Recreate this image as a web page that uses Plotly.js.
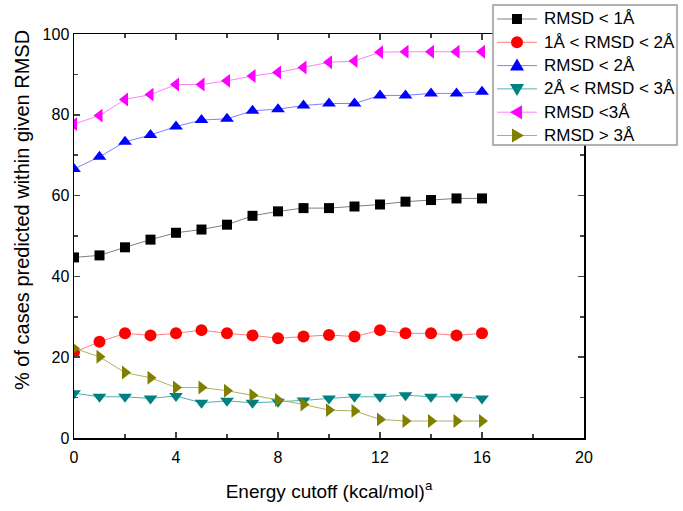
<!DOCTYPE html>
<html><head><meta charset="utf-8">
<script src="https://cdn.plot.ly/plotly-3.0.1.min.js"></script>
<style>body{margin:0;background:#fff}#c{width:683px;height:511px}</style>
</head><body><div id="c"></div>
<script>
const energy = [0,1,2,3,4,5,6,7,8,9,10,11,12,13,14,15,16];
const rmsdLt1 = [44.7,45.2,47.2,49.1,50.8,51.6,52.8,55.0,56.1,56.9,56.9,57.3,57.8,58.5,58.9,59.3,59.3];
const rmsd1to2 = [21.2,23.8,25.9,25.4,25.9,26.7,25.9,25.4,24.7,25.1,25.5,25.1,26.7,25.9,25.9,25.4,25.9];
const rmsdLt2 = [66.6,69.6,73.3,75.0,77.1,78.7,79.0,81.0,81.4,82.3,82.8,82.8,84.8,84.8,85.3,85.3,85.7];
const rmsd2to3 = [11.1,10.2,10.2,9.8,10.4,8.7,9.2,8.7,9.0,9.3,9.8,10.2,10.2,10.6,10.2,10.2,9.8];
const rmsdLt3 = [77.7,79.8,83.8,85.0,87.5,87.5,88.4,89.6,90.5,91.7,93.0,93.3,95.5,95.6,95.6,95.6,95.6];
const rmsdGt3 = [22.2,20.1,16.2,14.9,12.5,12.5,11.7,10.6,9.4,8.3,6.9,6.7,4.6,4.2,4.2,4.2,4.2];

const names = ["RMSD < 1Å","1Å < RMSD < 2Å","RMSD < 2Å","2Å < RMSD < 3Å","RMSD <3Å","RMSD > 3Å"];
const series = [rmsdLt1, rmsd1to2, rmsdLt2, rmsd2to3, rmsdLt3, rmsdGt3];
const markerColors = ["#000000","#ff0000","#0000ff","#008080","#ff00ff","#808000"];
const lineColors = ["#808080","#ff8080","#8080ff","#50b0b0","#ff80ff","#b0b060"];
const symbols = ["square","circle","triangle-up","triangle-down","triangle-left","triangle-right"];
const sizes = [10,12,12,12,12,12];
const xTitle = 'Energy cutoff (kcal/mol)<sup>a</sup>';
const yTitle = '% of cases predicted within given RMSD';

const traces = series.map((ys,k)=>({
  x: energy, y: ys, name: names[k], type:'scatter', mode:'lines+markers', showlegend:false,
  line:{color:lineColors[k], width:1},
  marker:{symbol:symbols[k], color:markerColors[k], size:sizes[k], line:{width:0}}
}));

// plot area geometry (pixels)
const L = 74, T = 34, W = 510, H = 404;
const px = x => (x - L) / W;
const py = y => (T + H - y) / H;
const font = {family:'"Liberation Sans", Arial, sans-serif', color:'#000'};

// manual legend (layout only)
const shapes = [], annotations = [];
const box = {x0:493, x1:677, y0:5, y1:145};
shapes.push({type:'rect', xref:'paper', yref:'paper', layer:'above',
  x0:px(box.x0), x1:px(box.x1), y0:py(box.y1), y1:py(box.y0),
  fillcolor:'#ffffff', line:{color:'#999', width:1.5}});
const rowY0 = 19, rowStep = 23.3, lineX0 = 497, lineX1 = 537, mX = 517, textX = 542;
function path(pts){ return 'M' + pts.map(p=>px(p[0])+','+py(p[1])).join(' L') + ' Z'; }
names.forEach((nm,k)=>{
  const yc = rowY0 + k*rowStep;
  shapes.push({type:'line', xref:'paper', yref:'paper', layer:'above',
    x0:px(lineX0), x1:px(lineX1), y0:py(yc), y1:py(yc), line:{color:lineColors[k], width:1}});
  const c = markerColors[k];
  let s;
  if (symbols[k]==='square') {
    s = {type:'rect', x0:px(mX-5), x1:px(mX+5), y0:py(yc+5), y1:py(yc-5)};
  } else if (symbols[k]==='circle') {
    s = {type:'circle', x0:px(mX-6), x1:px(mX+6), y0:py(yc+6), y1:py(yc-6)};
  } else if (symbols[k]==='triangle-up') {
    s = {type:'path', path:path([[mX-7,yc+5],[mX+7,yc+5],[mX,yc-7]])};
  } else if (symbols[k]==='triangle-down') {
    s = {type:'path', path:path([[mX-7,yc-5],[mX+7,yc-5],[mX,yc+7]])};
  } else if (symbols[k]==='triangle-left') {
    s = {type:'path', path:path([[mX+5,yc-7],[mX+5,yc+7],[mX-7,yc]])};
  } else {
    s = {type:'path', path:path([[mX-5,yc-7],[mX-5,yc+7],[mX+7,yc]])};
  }
  shapes.push(Object.assign(s, {xref:'paper', yref:'paper', layer:'above', fillcolor:c, line:{width:0}}));
  annotations.push({xref:'paper', yref:'paper', x:px(textX), y:py(yc), xanchor:'left', yanchor:'middle',
    text:nm, showarrow:false, font:Object.assign({size:17}, font)});
});
// y-axis title (placed as in the reference, slightly above the axis centre)
annotations.push({xref:'paper', yref:'paper', x:px(22), y:py(210), xanchor:'center', yanchor:'middle',
  textangle:-90, text:yTitle, showarrow:false, font:Object.assign({size:20}, font)});

const layout = {
  width:683, height:511,
  margin:{l:L, r:683-L-W, t:T, b:511-T-H, autoexpand:false},
  paper_bgcolor:'#fff', plot_bgcolor:'#fff',
  font: Object.assign({size:16}, font),
  showlegend:false,
  shapes: shapes, annotations: annotations,
  xaxis:{range:[0,20], tickvals:[0,4,8,12,16,20], ticks:'inside', ticklen:6, tickwidth:1.5,
    showline:true, linecolor:'#000', linewidth:1.5, mirror:'ticks', showgrid:false, zeroline:false,
    minor:{tickvals:[2,6,10,14,18], ticks:'inside', ticklen:4, tickwidth:1.5, showgrid:false},
    tickfont:Object.assign({size:16}, font), ticklabelstandoff:4,
    title:{text:xTitle, font:Object.assign({size:19}, font), standoff:20}},
  yaxis:{range:[0,100], tickvals:[0,20,40,60,80,100], ticks:'inside', ticklen:6, tickwidth:1.5,
    showline:true, linecolor:'#000', linewidth:1.5, mirror:'ticks', showgrid:false, zeroline:false,
    minor:{tickvals:[10,30,50,70,90], ticks:'inside', ticklen:4, tickwidth:1.5, showgrid:false},
    tickfont:Object.assign({size:16}, font)}
};
Plotly.newPlot('c', traces, layout, {displayModeBar:false, staticPlot:true});
</script>
</body></html>
